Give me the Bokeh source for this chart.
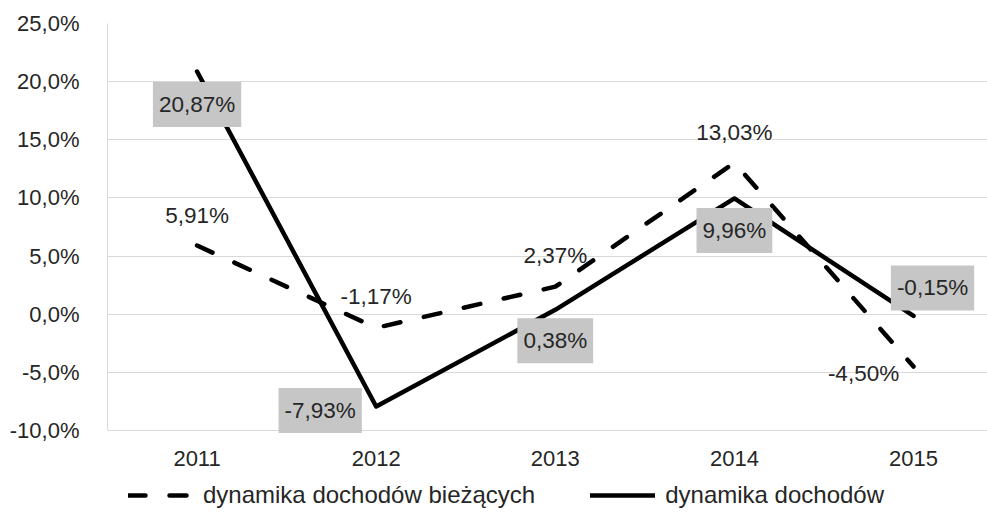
from bokeh.plotting import figure
from bokeh.models import Range1d, FixedTicker, Label, Legend, LegendItem
from bokeh.embed import file_html
from bokeh.resources import INLINE

# ---- data ----
years = ["2011", "2012", "2013", "2014", "2015"]
biezacych = [5.91, -1.17, 2.37, 13.03, -4.50]      # dashed series
dochodow = [20.87, -7.93, 0.38, 9.96, -0.15]       # solid series
y_ticks = [-10, -5, 0, 5, 10, 15, 20, 25]
series_names = ["dynamika dochodów bieżących", "dynamika dochodów"]

# ---- label placement (screen-pixel offsets, styling only) ----
b_off = [(0, 30), (0, 31), (0, 31), (0, 30), (-50, -7)]
d_off = [(0, -33), (-56, -4), (0, -31), (0, -32), (19, 28)]

FONT = "Liberation Sans"
TXT = "#262626"
GRID = "#d9d9d9"

xs = list(range(len(years)))

# frame spans down to the bottom of the page; extra room below -10 holds the
# category labels and the legend
p = figure(width=987, height=519,
           x_range=Range1d(-0.5, 4.413), y_range=Range1d(-17.65, y_ticks[-1]),
           output_backend="svg", toolbar_location=None,
           min_border_left=107, min_border_right=0, min_border_top=23, min_border_bottom=0)
p.outline_line_color = None
p.background_fill_color = "white"
p.border_fill_color = "white"

# axes
p.xaxis.ticker = FixedTicker(ticks=xs)
p.xaxis.major_label_overrides = {i: y for i, y in zip(xs, years)}
p.xaxis.fixed_location = y_ticks[0]
p.yaxis.ticker = FixedTicker(ticks=y_ticks)
p.yaxis.bounds = (y_ticks[0], y_ticks[-1])
p.yaxis.major_label_overrides = {t: (f"{t:.1f}%").replace(".", ",") for t in y_ticks}
for ax in (p.xaxis[0], p.yaxis[0]):
    ax.axis_line_color = GRID
    ax.axis_line_width = 1
    ax.major_tick_line_color = None
    ax.minor_tick_line_color = None
    ax.major_label_text_font = FONT
    ax.major_label_text_font_size = "22px"
    ax.major_label_text_color = TXT
p.yaxis.major_label_standoff = 22
p.xaxis.major_label_standoff = 14

p.xgrid.grid_line_color = None
p.ygrid.grid_line_color = GRID
p.ygrid.grid_line_width = 1

r_dash = p.line(xs, biezacych, line_color="black", line_width=4.5,
                line_dash="17 24", line_cap="round", line_join="round")
r_solid = p.line(xs, dochodow, line_color="black", line_width=4.5,
                 line_cap="round", line_join="round")

def fmt(v):
    return (f"{v:.2f}%").replace(".", ",")

for x, v, (dx, dy) in zip(xs, biezacych, b_off):
    p.add_layout(Label(x=x, y=v, x_offset=dx, y_offset=dy, text=fmt(v),
                       text_align="center", text_baseline="middle",
                       text_font=FONT, text_font_size="22.5px", text_color=TXT))

for x, v, (dx, dy) in zip(xs, dochodow, d_off):
    p.add_layout(Label(x=x, y=v, x_offset=dx, y_offset=dy, text=fmt(v),
                       text_align="center", text_baseline="middle",
                       text_font=FONT, text_font_size="22.5px", text_color=TXT,
                       background_fill_color="#c6c6c6", padding=(6, 10)))

legend = Legend(items=[LegendItem(label=series_names[0], renderers=[r_dash]),
                       LegendItem(label=series_names[1], renderers=[r_solid])],
                orientation="horizontal", location=(21, 10),
                glyph_width=65, glyph_height=24, label_height=24,
                label_standoff=10, spacing=55,
                padding=0, margin=0, border_line_color=None, background_fill_alpha=0,
                label_text_font=FONT, label_text_font_size="24px", label_text_color=TXT)
p.add_layout(legend)

open("out.html", "w").write(file_html(p, INLINE))
